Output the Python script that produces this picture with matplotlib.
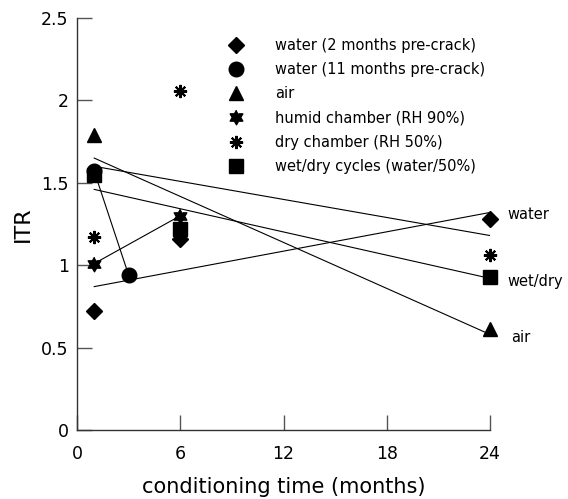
import matplotlib
matplotlib.use('Agg')
import matplotlib.pyplot as plt
import numpy as np
from matplotlib.ticker import FormatStrFormatter

# ITR values, x = conditioning time (months)
water2_x = [1, 6, 24]
water2_y = [0.72, 1.16, 1.28]
water11_x = [1, 3]
water11_y = [1.57, 0.94]
air_x = [1, 24]
air_y = [1.79, 0.61]
humid_x = [1, 6]
humid_y = [1.01, 1.30]
dry_x = [1, 6, 24]
dry_y = [1.17, 2.06, 1.06]
wetdry_x = [1, 6, 24]
wetdry_y = [1.55, 1.22, 0.93]

# trend lines (start at 1 month, end at 24 months)
trend_x = [1, 24]
trend_water = [0.87, 1.32]
trend_air = [1.65, 0.58]
trend_dry = [1.60, 1.18]
trend_wetdry = [1.46, 0.92]

xticks = [0, 6, 12, 18, 24]
yticks = [0, 0.5, 1, 1.5, 2, 2.5]

plt.rcParams['font.family'] = 'DejaVu Sans'

# star of David shaped marker
ang = np.pi / 2 + np.arange(12) * np.pi / 6
rad = np.where(np.arange(12) % 2 == 0, 1.0, 0.577)
hexagram = np.column_stack([rad * np.cos(ang), rad * np.sin(ang)])

fig = plt.figure(figsize=(5.68, 4.99), dpi=100)
ax = fig.add_axes([77 / 568, 69 / 499, 413 / 568, 412 / 499])

lw = 0.8
# connecting lines and trends
ax.plot(water11_x, water11_y, color='black', lw=lw)
ax.plot(humid_x, humid_y, color='black', lw=lw)
for t in (trend_water, trend_air, trend_dry, trend_wetdry):
    ax.plot(trend_x, t, color='black', lw=lw)

ax.plot(water2_x, water2_y, ls='none', marker='D', ms=8.3, color='black',
        label='water (2 months pre-crack)', clip_on=False)
ax.plot(water11_x, water11_y, ls='none', marker='o', ms=10.5, color='black',
        label='water (11 months pre-crack)', clip_on=False)
ax.plot(air_x, air_y, ls='none', marker='^', ms=10, color='black',
        label='air', clip_on=False)
ax.plot(humid_x, humid_y, ls='none', marker=hexagram, ms=10.5, color='black',
        label='humid chamber (RH 90%)', clip_on=False)
ax.plot(dry_x, dry_y, ls='none', marker=(8, 2, 0), ms=9.5, mew=1.5, color='black',
        label='dry chamber (RH 50%)', clip_on=False)
ax.plot(wetdry_x, wetdry_y, ls='none', marker='s', ms=10, color='black',
        label='wet/dry cycles (water/50%)', clip_on=False)

ax.set_xlim(0, 24)
ax.set_ylim(0, 2.5)
ax.set_xticks(xticks)
ax.set_yticks(yticks)
ax.yaxis.set_major_formatter(FormatStrFormatter('%g'))
ax.tick_params(direction='in', length=10.5, width=1, color='#555555',
               labelsize=12.5)
ax.tick_params(axis='x', pad=11)
ax.tick_params(axis='y', pad=6)
ax.spines['top'].set_visible(False)
ax.spines['right'].set_visible(False)
for s in ('left', 'bottom'):
    ax.spines[s].set_linewidth(1)
    ax.spines[s].set_color('#333333')

ax.set_xlabel('conditioning time (months)', fontsize=15, labelpad=10)
ax.set_ylabel('ITR', fontsize=16, labelpad=6)

# labels on the right end of trends
ax.text(25, 1.31, 'water', fontsize=10.5, va='center', clip_on=False)
ax.text(25, 0.90, 'wet/dry', fontsize=10.5, va='center', clip_on=False)
ax.text(25.2, 0.56, 'air', fontsize=10.5, va='center', clip_on=False)

ax.legend(loc='upper left', bbox_to_anchor=(229 / 568, 1 - 38 / 499),
          bbox_transform=fig.transFigure, frameon=False, fontsize=10.5,
          borderpad=0, borderaxespad=0, handlelength=1.0, handletextpad=2.15,
          labelspacing=0.63, numpoints=1)

fig.savefig('out.png', dpi=100)
